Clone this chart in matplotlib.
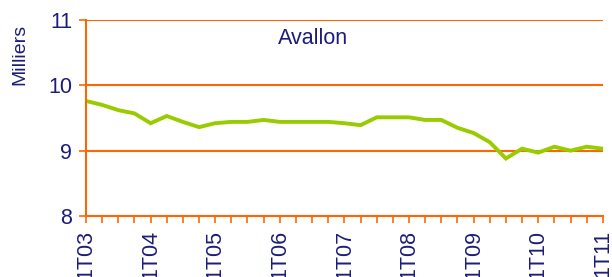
import numpy as np
import matplotlib.pyplot as plt

plt.rcParams['font.family'] = ['Liberation Sans', 'DejaVu Sans']

# quarterly values, 1T03 .. 1T11 (milliers)
values = [9.76, 9.70, 9.62, 9.57, 9.42, 9.53, 9.44, 9.36, 9.42, 9.44,
          9.44, 9.47, 9.44, 9.44, 9.44, 9.44, 9.42, 9.39, 9.51, 9.51,
          9.51, 9.47, 9.47, 9.35, 9.27, 9.13, 8.88, 9.03, 8.97, 9.06,
          9.00, 9.06, 9.03]
year_labels = ['1T03', '1T04', '1T05', '1T06', '1T07', '1T08', '1T09', '1T10', '1T11']
y_ticks = [8, 9, 10, 11]

orange = '#FF6600'
navy = '#1C1C7A'
green = '#99CC00'

x = np.arange(len(values))

fig = plt.figure(figsize=(6.12, 2.77), dpi=100)
ax = fig.add_axes([0.1405, 0.2202, 0.8445, 0.7078])

ax.plot(x, values, color=green, lw=2.8, solid_joinstyle='miter')

ax.set_xlim(0, len(values) - 1)
ax.set_ylim(8, 11)
ax.set_yticks(y_ticks)
ax.set_xticks(np.arange(0, len(values), 4))
ax.set_xticklabels(year_labels, rotation=90)
ax.set_xticks(x, minor=True)

for v in y_ticks[1:]:
    ax.axhline(v, color=orange, lw=1.5, zorder=0)

for s in ['top', 'right']:
    ax.spines[s].set_visible(False)
for s in ['left', 'bottom']:
    ax.spines[s].set_color(orange)
    ax.spines[s].set_linewidth(1.5)

ax.tick_params(axis='both', which='both', color=orange, width=1.2, length=5,
               labelcolor=navy, labelsize=15.5)
ax.tick_params(axis='x', which='major', pad=5)
ax.tick_params(axis='y', pad=5)

fig.text(20 / 612, 1 - 54 / 277, 'Milliers', rotation=90, ha='center', va='center',
         color=navy, fontsize=14)
fig.text(313 / 612, 1 - 38 / 277, 'Avallon', ha='center', va='center',
         color=navy, fontsize=15.5)

fig.savefig('out.png', dpi=100)
